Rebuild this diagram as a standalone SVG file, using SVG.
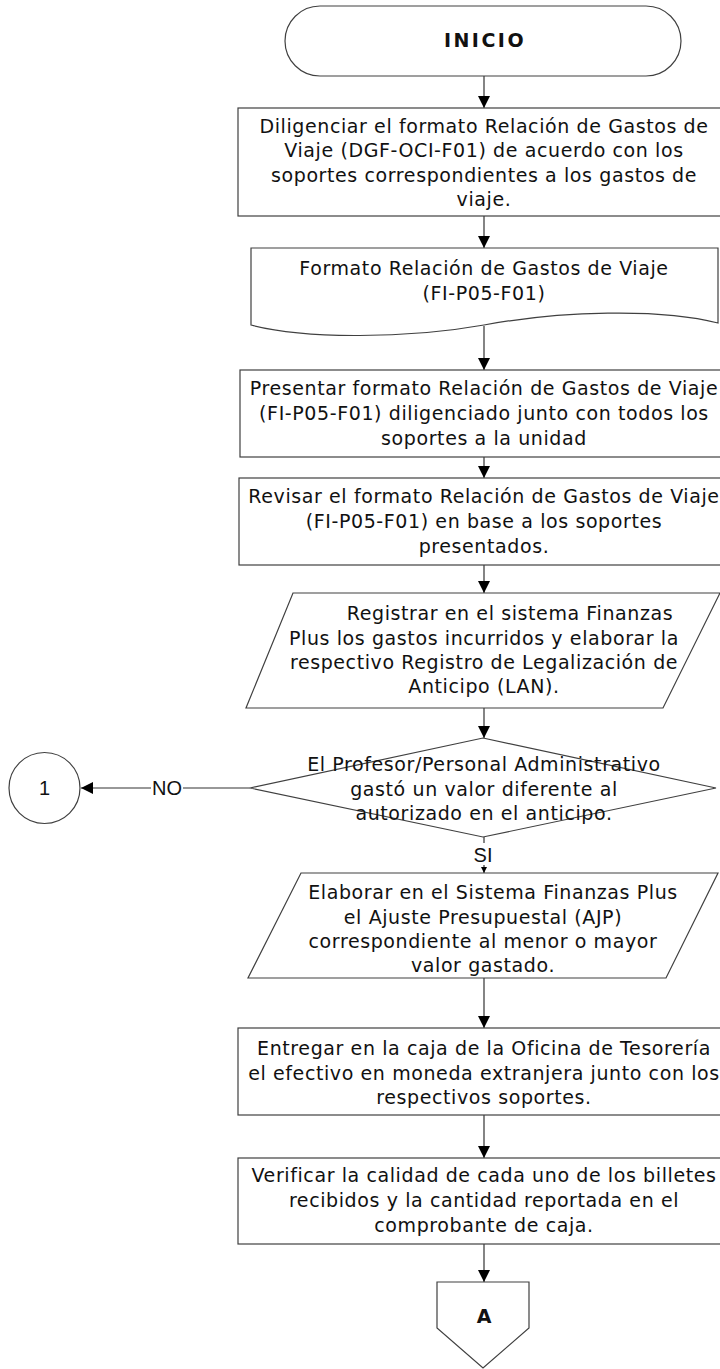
<svg xmlns="http://www.w3.org/2000/svg" width="720" height="1369" viewBox="0 0 720 1369">
<defs>
<marker id="ah" markerWidth="12" markerHeight="12" refX="12" refY="6" orient="auto" markerUnits="userSpaceOnUse">
<path d="M0,0 L12,6 L0,12 Z" fill="#000"/>
</marker>
<marker id="ahs" markerWidth="6" markerHeight="6" refX="6" refY="3" orient="auto" markerUnits="userSpaceOnUse">
<path d="M0,0 L6,3 L0,6 Z" fill="#000"/>
</marker>
<style>
.s{fill:#fff;stroke:#404040;stroke-width:1.2}
.t{font-family:"DejaVu Sans",Verdana,sans-serif;font-size:19px;letter-spacing:0.6px;fill:#111;text-anchor:middle}
.b{font-family:"DejaVu Sans",Verdana,sans-serif;font-size:19px;font-weight:bold;letter-spacing:2.5px;fill:#111;text-anchor:middle}
.a{font-family:"Liberation Sans",Arial,sans-serif;font-size:20px;fill:#111;text-anchor:middle}
.c{fill:none;stroke:#333;stroke-width:1.2}
</style>
</defs>
<rect width="720" height="1369" fill="#fff"/>

<g id="connectors">
<line class="c" x1="484" y1="76" x2="484" y2="108" marker-end="url(#ah)"/>
<line class="c" x1="484" y1="216" x2="484" y2="248" marker-end="url(#ah)"/>
<line class="c" x1="484" y1="326" x2="484" y2="370" marker-end="url(#ah)"/>
<line class="c" x1="484" y1="457" x2="484" y2="478" marker-end="url(#ah)"/>
<line class="c" x1="484" y1="565" x2="484" y2="593" marker-end="url(#ah)"/>
<line class="c" x1="484" y1="708" x2="484" y2="738" marker-end="url(#ah)"/>
<line class="c" x1="484" y1="837" x2="484" y2="873" marker-end="url(#ahs)"/>
<line class="c" x1="484" y1="978" x2="484" y2="1028" marker-end="url(#ah)"/>
<line class="c" x1="484" y1="1115" x2="484" y2="1158" marker-end="url(#ah)"/>
<line class="c" x1="484" y1="1244" x2="484" y2="1282" marker-end="url(#ah)"/>
<line class="c" x1="250" y1="788" x2="81" y2="788" marker-end="url(#ah)"/>
<rect x="151" y="777" width="32" height="22" fill="#fff"/>
<text class="a" x="167" y="795">NO</text>
<rect x="472" y="843" width="24" height="22" fill="#fff"/>
<text class="a" x="483" y="862">SI</text>
</g>

<g id="inicio">
<rect class="s" x="285" y="6" width="396" height="70" rx="35" ry="35"/>
<text class="b" x="485" y="47">INICIO</text>
</g>

<g id="diligenciar">
<rect class="s" x="238" y="108" width="490" height="108"/>
<text class="t" x="484" y="132.5">Diligenciar el formato Relación de Gastos de</text>
<text class="t" x="484" y="157">Viaje (DGF-OCI-F01) de acuerdo con los</text>
<text class="t" x="484" y="181.5">soportes correspondientes a los gastos de</text>
<text class="t" x="484" y="206">viaje.</text>
</g>

<g id="formato">
<path class="s" d="M251,325 V248 H718 V323 C660,308 560,311 484,325 C400,340 300,338 251,325 Z"/>
<text class="t" x="484" y="275">Formato Relación de Gastos de Viaje</text>
<text class="t" x="484" y="300">(FI-P05-F01)</text>
</g>

<g id="presentar">
<rect class="s" x="240" y="370" width="490" height="87"/>
<text class="t" x="484" y="395">Presentar formato Relación de Gastos de Viaje</text>
<text class="t" x="484" y="420">(FI-P05-F01) diligenciado junto con todos los</text>
<text class="t" x="484" y="445">soportes a la unidad</text>
</g>

<g id="revisar">
<rect class="s" x="239" y="478" width="490" height="87"/>
<text class="t" x="484" y="503">Revisar el formato Relación de Gastos de Viaje</text>
<text class="t" x="484" y="528">(FI-P05-F01) en base a los soportes</text>
<text class="t" x="484" y="553">presentados.</text>
</g>

<g id="registrar">
<polygon class="s" points="293,593 720,593 663,708 246,708"/>
<text class="t" x="510" y="620">Registrar en el sistema Finanzas</text>
<text class="t" x="484" y="644.5">Plus los gastos incurridos y elaborar la</text>
<text class="t" x="484" y="669">respectivo Registro de Legalización de</text>
<text class="t" x="484" y="693">Anticipo (LAN).</text>
</g>

<g id="decision">
<polygon class="s" points="483,738 716,788 483,837 250,788"/>
<text class="t" x="484" y="771">El Profesor/Personal Administrativo</text>
<text class="t" x="484" y="795.5">gastó un valor diferente al</text>
<text class="t" x="484" y="820">autorizado en el anticipo.</text>
</g>

<g id="conector1">
<circle class="s" cx="44.5" cy="788" r="35.5"/>
<text class="a" x="44.5" y="795">1</text>
</g>

<g id="elaborar">
<polygon class="s" points="301,873 718,873 666,978 248,978"/>
<text class="t" x="493" y="899">Elaborar en el Sistema Finanzas Plus</text>
<text class="t" x="483" y="923.5">el Ajuste Presupuestal (AJP)</text>
<text class="t" x="483" y="947.5">correspondiente al menor o mayor</text>
<text class="t" x="483" y="971.5">valor gastado.</text>
</g>

<g id="entregar">
<rect class="s" x="238" y="1028" width="490" height="87"/>
<text class="t" x="484" y="1055">Entregar en la caja de la Oficina de Tesorería</text>
<text class="t" x="484" y="1080">el efectivo en moneda extranjera junto con los</text>
<text class="t" x="484" y="1104">respectivos soportes.</text>
</g>

<g id="verificar">
<rect class="s" x="238" y="1158" width="490" height="86"/>
<text class="t" x="484" y="1182">Verificar la calidad de cada uno de los billetes</text>
<text class="t" x="484" y="1207">recibidos y la cantidad reportada en el</text>
<text class="t" x="484" y="1232">comprobante de caja.</text>
</g>

<g id="conectorA">
<polygon class="s" points="437,1282 529,1282 529,1328 483,1368 437,1328"/>
<text class="b" x="484" y="1323" style="letter-spacing:0">A</text>
</g>
</svg>
